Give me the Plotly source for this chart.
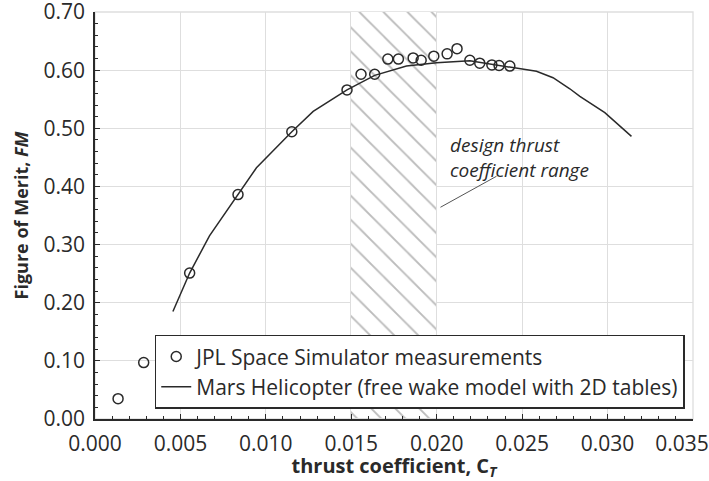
import plotly.graph_objects as go

# measured data (JPL Space Simulator)
ct_meas = [0.00135, 0.00285, 0.00554, 0.00837, 0.01152, 0.01475, 0.01557, 0.01637,
           0.01714, 0.01776, 0.01862, 0.01909, 0.01983, 0.02061, 0.02119, 0.02194,
           0.02252, 0.02323, 0.02365, 0.02428]
fm_meas = [0.035, 0.097, 0.251, 0.386, 0.494, 0.566, 0.593, 0.593,
           0.619, 0.619, 0.621, 0.617, 0.624, 0.628, 0.637, 0.617,
           0.612, 0.609, 0.608, 0.607]

# model curve (free wake model with 2D tables)
ct_model = [0.00456, 0.00554, 0.0067, 0.00837, 0.00945, 0.01152, 0.01277, 0.01475,
            0.01637, 0.01823, 0.01999, 0.02194, 0.02409, 0.02584, 0.02681, 0.02779,
            0.02838, 0.02984, 0.0314]
fm_model = [0.185, 0.251, 0.315, 0.385, 0.432, 0.494, 0.529, 0.566,
            0.591, 0.607, 0.6126, 0.616, 0.606, 0.598, 0.587, 0.568,
            0.555, 0.527, 0.486]

# x tick labels (last one padded so it stays inside the page, as in the reference)
x_tickvals = [0.0, 0.005, 0.010, 0.015, 0.020, 0.025, 0.030, 0.035]
x_ticktext = ["0.000", "0.005", "0.010", "0.015", "0.020", "0.025", "0.030",
              "0.035\u00a0\u00a0\u00a0\u00a0"]

# design thrust coefficient range
design_range = [0.015, 0.020]
y_top = 0.70

ink = "#2a2a2a"
grid = "#dedede"
font_family = "Open Sans"

fig = go.Figure()

fig.add_trace(go.Bar(
    x=[(design_range[0] + design_range[1]) / 2],
    y=[y_top],
    width=[design_range[1] - design_range[0]],
    marker=dict(color="white", line=dict(width=1, color=grid),
                pattern=dict(shape="\\", fgcolor="#7a7a7a", bgcolor="white",
                             size=17, solidity=0.11)),
    showlegend=False, hoverinfo="skip",
))

fig.add_trace(go.Scatter(
    x=ct_meas, y=fm_meas, mode="markers",
    name="JPL Space Simulator measurements",
    marker=dict(symbol="circle-open", size=10, color=ink, line=dict(width=1.5, color=ink)),
))

fig.add_trace(go.Scatter(
    x=ct_model, y=fm_model, mode="lines",
    name="Mars Helicopter (free wake model with 2D tables)",
    line=dict(color=ink, width=1.5),
))

fig.add_annotation(
    x=0.02071, y=0.496, xref="x", yref="y", xanchor="left", yanchor="top",
    text="<i>design thrust<br>coefficient range</i>", showarrow=False, align="left",
    font=dict(family=font_family, size=19, color=ink), borderpad=0,
)
fig.add_shape(type="line", x0=0.02022, y0=0.3642, x1=0.0235, y1=0.4175,
              xref="x", yref="y", line=dict(color="#555555", width=1))

fig.update_layout(
    width=709, height=481,
    margin=dict(l=95, r=16, t=12, b=62, autoexpand=False),
    paper_bgcolor="white", plot_bgcolor="white",
    font=dict(family=font_family, size=21, color=ink),
    bargap=0,
    legend=dict(
        x=0.0999, y=0.025, xanchor="left", yanchor="bottom",
        bgcolor="white", bordercolor=ink, borderwidth=1.5,
        font=dict(size=21, color=ink), tracegroupgap=0,
    ),
    xaxis=dict(
        range=[0, 0.035001], tickvals=x_tickvals, ticktext=x_ticktext,
        showgrid=True, gridcolor=grid, gridwidth=1.3,
        showline=True, linecolor=ink, linewidth=1.5,
        ticks="inside", ticklen=5, tickcolor=ink, ticklabelstandoff=5,
        ticklabeloverflow="allow",
        minor=dict(dtick=0.001, ticks="inside", ticklen=3, tickcolor=ink, showgrid=False),
        title=dict(text="<b>thrust coefficient, C<sub><i>T</i></sub></b>",
                   font=dict(size=20), standoff=5),
        zeroline=False, mirror=False,
    ),
    yaxis=dict(
        range=[0, 0.70001], dtick=0.1, tickformat=".2f",
        showgrid=True, gridcolor=grid, gridwidth=1.3,
        showline=True, linecolor=ink, linewidth=1.5,
        ticks="inside", ticklen=5, tickcolor=ink, ticklabelstandoff=4,
        ticklabeloverflow="allow",
        minor=dict(dtick=0.02, ticks="inside", ticklen=3, tickcolor=ink, showgrid=False),
        title=dict(text="<b>Figure of Merit, <i>FM</i></b>", font=dict(size=18), standoff=10),
        zeroline=False,
    ),
)

# right/top light frame like the reference grid border
fig.add_shape(type="rect", xref="paper", yref="paper", x0=0, y0=0, x1=1, y1=1,
              line=dict(color=grid, width=1.3), layer="below")

fig.write_html("out.html", config={"displayModeBar": False},
               post_script="document.body.style.margin='0';")
